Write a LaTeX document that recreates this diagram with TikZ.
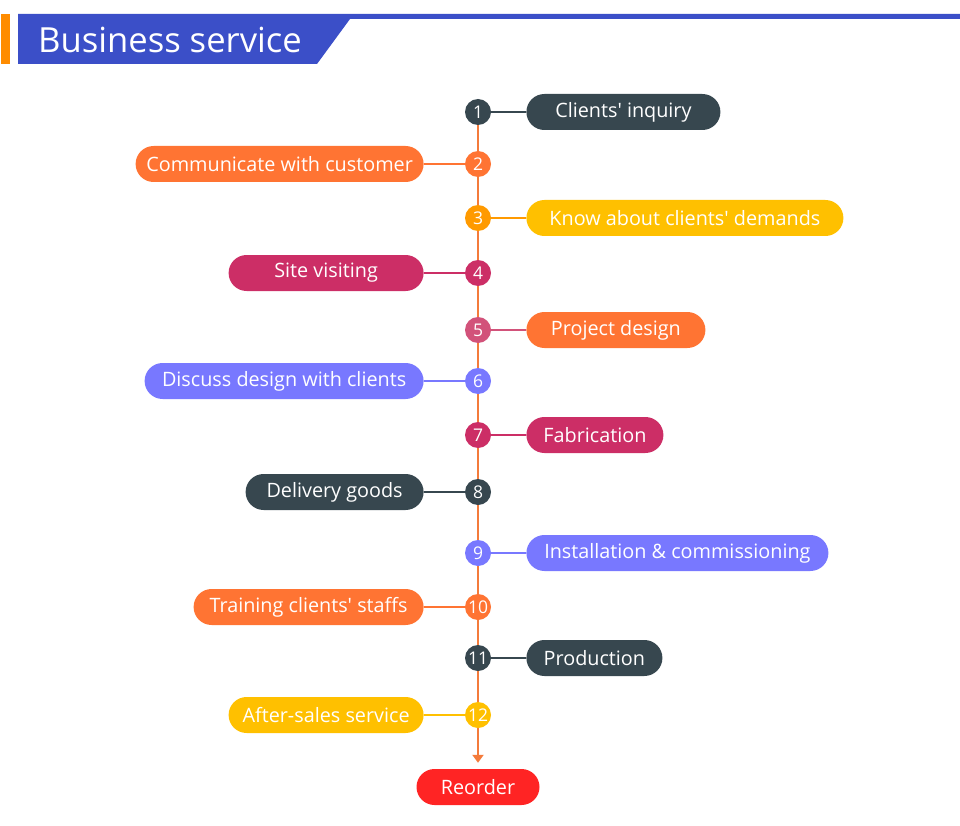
\documentclass[tikz,border=0pt]{standalone}
\usepackage{fontspec}
\setmainfont{Open Sans}[Ligatures=TeXOff]
\usetikzlibrary{positioning,arrows.meta,backgrounds}
\definecolor{slate}{HTML}{37474F}
\definecolor{tangerine}{HTML}{FF7433}
\definecolor{amber}{HTML}{FF9A00}
\definecolor{gold}{HTML}{FFC000}
\definecolor{crimson}{HTML}{CC2E66}
\definecolor{rose}{HTML}{D2527A}
\definecolor{periwinkle}{HTML}{7878FF}
\definecolor{alarm}{HTML}{FF2424}
\definecolor{royal}{HTML}{3B4FC8}
\definecolor{barorange}{HTML}{FF8C00}
\definecolor{trunk}{HTML}{F47B3B}
\tikzset{
  stepdot/.style={circle,fill=#1,text=white,minimum size=26pt,inner sep=0pt,font=\fontsize{17.5}{18}\selectfont},
  pill/.style={rounded corners=18pt,fill=#1,text=white,minimum height=36pt,inner xsep=0pt,font=\fontsize{19.8}{20}\selectfont},
  link/.style={line width=2.8pt,draw=#1}
}
\begin{document}
\begin{tikzpicture}[x=1pt,y=-1pt]
    \useasboundingbox (0,0) rectangle (960,826);

    % header
    \fill[barorange] (1,14) rectangle (10,64);
    \fill[royal] (18,14) -- (960,14) -- (960,19) -- (350,19) -- (317,64) -- (18,64) -- cycle;
    \node[anchor=west,text=white,inner sep=0pt,font=\fontsize{34.6}{35}\selectfont] (title) at (38,40) {Business service};

    % steps on the line
    \node[stepdot=slate] (c1) at (478,112) {1};
    \node[stepdot=tangerine] (c2) at (478,164) {2};
    \node[stepdot=amber] (c3) at (478,218) {3};
    \node[stepdot=crimson] (c4) at (478,273) {4};
    \node[stepdot=rose] (c5) at (478,330) {5};
    \node[stepdot=periwinkle] (c6) at (478,381) {6};
    \node[stepdot=crimson] (c7) at (478,435) {7};
    \node[stepdot=slate] (c8) at (478,492) {8};
    \node[stepdot=periwinkle] (c9) at (478,553) {9};
    \node[stepdot=tangerine] (c10) at (478,607) {10};
    \node[stepdot=slate] (c11) at (478,658) {11};
    \node[stepdot=gold] (c12) at (478,715) {12};

    % labels right and left
    \node[pill=slate,minimum width=194pt,right=35pt of c1] (p1) {Clients' inquiry};
    \node[pill=tangerine,minimum width=288pt,left=41pt of c2] (p2) {Communicate with customer};
    \node[pill=gold,minimum width=317pt,right=35pt of c3] (p3) {Know about clients' demands};
    \node[pill=crimson,minimum width=195pt,left=41pt of c4] (p4) {Site visiting};
    \node[pill=tangerine,minimum width=179pt,right=35pt of c5] (p5) {Project design};
    \node[pill=periwinkle,minimum width=279pt,left=41pt of c6] (p6) {Discuss design with clients};
    \node[pill=crimson,minimum width=137pt,right=35pt of c7] (p7) {Fabrication};
    \node[pill=slate,minimum width=178pt,left=41pt of c8] (p8) {Delivery goods};
    \node[pill=periwinkle,minimum width=302pt,right=35pt of c9] (p9) {Installation \& commissioning};
    \node[pill=tangerine,minimum width=230pt,left=41pt of c10] (p10) {Training clients' staffs};
    \node[pill=slate,minimum width=136pt,right=35pt of c11] (p11) {Production};
    \node[pill=gold,minimum width=195pt,left=41pt of c12] (p12) {After-sales service};

    % end of the line
    \node[pill=alarm,minimum width=123pt] (reorder) at (478,787) {Reorder};

    \begin{pgfonlayer}{background}
    % the trunk line
    \draw[trunk,line width=2.8pt] (c1.center) -- (c12.center);
    \draw[trunk,line width=2.8pt,-{Triangle[length=8pt,width=11pt]},shorten >=6pt] (c12.center) -- (reorder.north);

    % connectors
    \draw[link=slate] (c1) -- (p1);
    \draw[link=tangerine] (c2) -- (p2);
    \draw[link=amber] (c3) -- (p3);
    \draw[link=crimson] (c4) -- (p4);
    \draw[link=rose] (c5) -- (p5);
    \draw[link=periwinkle] (c6) -- (p6);
    \draw[link=crimson] (c7) -- (p7);
    \draw[link=slate] (c8) -- (p8);
    \draw[link=periwinkle] (c9) -- (p9);
    \draw[link=tangerine] (c10) -- (p10);
    \draw[link=slate] (c11) -- (p11);
    \draw[link=gold] (c12) -- (p12);
    \end{pgfonlayer}
\end{tikzpicture}
\end{document}
